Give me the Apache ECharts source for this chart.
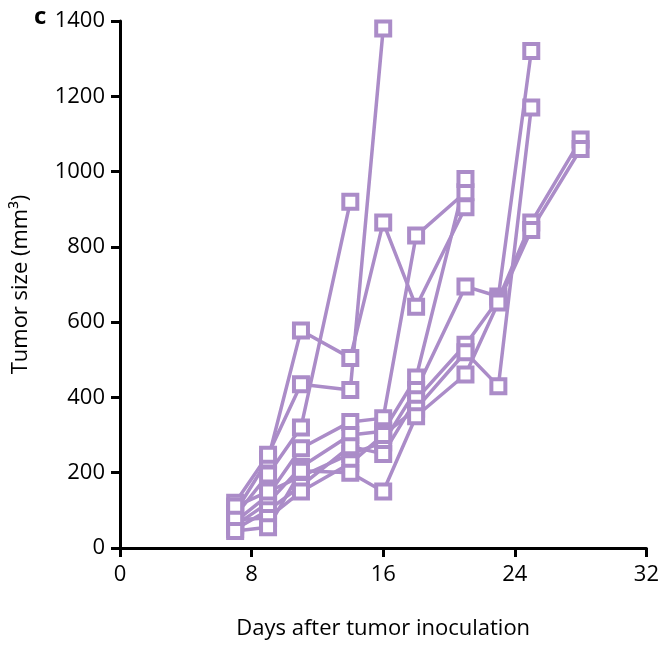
<!DOCTYPE html>
<html>
<head>
<meta charset="utf-8">
<script src="https://cdn.jsdelivr.net/npm/echarts@6/dist/echarts.min.js"></script>
<style>
  html, body { margin: 0; padding: 0; background: #fff; }
  #main { width: 662px; height: 645px; }
</style>
</head>
<body>
<div id="main"></div>
<script>
// measurement days
var days = [7, 9, 11, 14, 16, 18, 21, 23, 25, 28];

// tumour size per mouse (mm3), null = no measurement
var mouseA = [95, 235, 578, 505, 865, 641, 905, null, null, null];
var mouseB = [120, 248, 435, 420, 1380, null, null, null, null, null];
var mouseC = [85, 195, 320, 920, null, null, null, null, null, null];
var mouseD = [70, 140, 265, 335, 345, 830, 945, null, null, null];
var mouseE = [60, 120, 215, 300, 310, 453, 980, null, null, null];
var mouseF = [110, 150, 190, 250, 280, 420, 695, 668, 1320, null];
var mouseG = [50, 100, 165, 270, 250, 395, 540, 660, 865, 1085];
var mouseH = [75, 80, 150, 225, 300, 370, 520, 430, 1170, null];
var mouseI = [45, 55, 205, 200, 150, 350, 461, 652, 845, 1060];

var mice = [mouseA, mouseB, mouseC, mouseD, mouseE, mouseF, mouseG, mouseH, mouseI];

var xTicks = [0, 8, 16, 24, 32];
var yTicks = [0, 200, 400, 600, 800, 1000, 1200, 1400];

var purple = '#ab8cc8';
var font = 'Open Sans';

var chart = echarts.init(document.getElementById('main'));

var series = mice.map(function (vals) {
  var pts = [];
  for (var i = 0; i < days.length; i++) {
    if (vals[i] != null) pts.push([days[i], vals[i]]);
  }
  return {
    type: 'line',
    data: pts,
    symbol: 'rect',
    symbolSize: 14,
    lineStyle: { color: purple, width: 3.5 },
    itemStyle: { color: '#fff', borderColor: purple, borderWidth: 4 },
    silent: true,
    animation: false
  };
});

var option = {
  animation: false,
  grid: { left: 120, right: 11, top: 21, bottom: 96 },
  xAxis: {
    type: 'value',
    min: xTicks[0],
    max: xTicks[xTicks.length - 1],
    interval: 8,
    name: 'Days after tumor inoculation',
    nameLocation: 'middle',
    nameGap: 70,
    nameTextStyle: { fontFamily: font, fontSize: 22, color: '#000' },
    axisLine: { lineStyle: { color: '#000', width: 3 } },
    axisTick: { length: 9, lineStyle: { color: '#000', width: 3 } },
    axisLabel: { fontFamily: font, fontSize: 22, color: '#000', margin: 16 },
    splitLine: { show: false }
  },
  yAxis: {
    type: 'value',
    min: yTicks[0],
    max: yTicks[yTicks.length - 1],
    interval: 200,
    name: 'Tumor size (mm³)',
    nameLocation: 'middle',
    nameGap: 88,
    nameRotate: 90,
    nameTextStyle: { fontFamily: font, fontSize: 22, color: '#000' },
    axisLine: { show: true, lineStyle: { color: '#000', width: 3 } },
    axisTick: { show: true, length: 9, lineStyle: { color: '#000', width: 3 } },
    axisLabel: {
      fontFamily: font, fontSize: 22, color: '#000', margin: 15,
      formatter: function (v) { return String(v); }
    },
    splitLine: { show: false }
  },
  graphic: [{
    type: 'text',
    left: 34,
    top: 5,
    style: { text: 'c', fontFamily: font, fontWeight: 'bold', fontSize: 24, fill: '#000' }
  }],
  series: series
};

chart.setOption(option);
</script>
</body>
</html>
